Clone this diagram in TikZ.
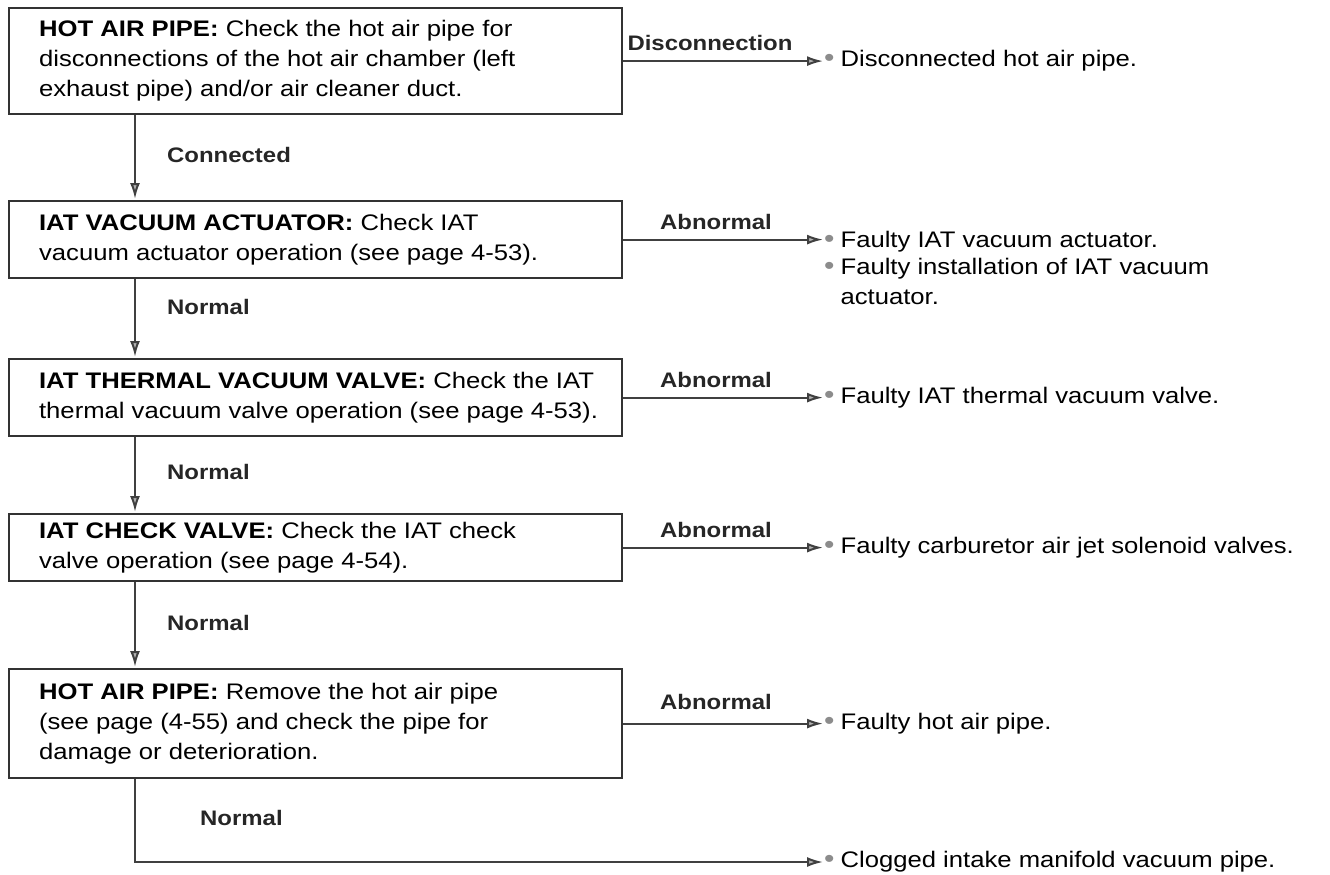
\documentclass[tikz,border=0pt]{standalone}
\usepackage{fontspec}
\setmainfont{Liberation Sans}[FakeStretch=1.14]
\usetikzlibrary{arrows.meta}
\newcommand{\bul}{{\color{black!45}\fontsize{26}{26}\selectfont\raisebox{0pt}{•}}\hspace{6pt}}
\newcommand{\bxt}[1]{\hspace*{30pt}\parbox[c]{583pt}{\raggedright #1}}
\begin{document}
\begin{tikzpicture}[x=1pt,y=1pt,
  box/.style={draw=black!80, line width=2.2pt, rectangle, anchor=north west,
    inner xsep=0pt, inner ysep=0pt,
    font=\fontsize{22.5}{30}\selectfont, minimum width=613pt},
  lbl/.style={font=\fontsize{21}{24}\selectfont\bfseries, text=black!85, inner sep=0pt},
  res/.style={anchor=west, inner sep=0pt, font=\fontsize{22.5}{30}\selectfont, align=left},
  arr/.style={draw=black!75, line width=2pt, shorten >=1pt,
    -{Latex[length=16pt,width=10pt,fill=black!30]}},
]
\useasboundingbox (0,0) rectangle (1330,-875);
\coordinate (vx) at (135,0);
\coordinate (rx) at (824,0);

\node[box, minimum height=106pt] (b1) at (8,-7) {\bxt{\textbf{HOT AIR PIPE:} Check the hot air pipe for\\disconnections of the hot air chamber (left\\exhaust pipe) and/or air cleaner duct.}};
\node[box, minimum height=77pt] (b2) at (8,-200) {\bxt{\textbf{IAT VACUUM ACTUATOR:} Check IAT\\vacuum actuator operation (see page 4-53).}};
\node[box, minimum height=77pt] (b3) at (8,-358) {\bxt{\textbf{IAT THERMAL VACUUM VALVE:} Check the IAT\\thermal vacuum valve operation (see page 4-53).}};
\node[box, minimum height=67pt] (b4) at (8,-513) {\bxt{\textbf{IAT CHECK VALVE:} Check the IAT check\\valve operation (see page 4-54).}};
\node[box, minimum height=109pt] (b5) at (8,-668) {\bxt{\textbf{HOT AIR PIPE:} Remove the hot air pipe\\(see page (4-55) and check the pipe for\\damage or deterioration.}};

\node[res] (r1) at (b1.east -| rx) {\bul Disconnected hot air pipe.};
\node[res] (r2a) at ([yshift=-2pt]b2.east -| rx) {\bul Faulty IAT vacuum actuator.};
\node[res, anchor=north west] (r2b) at (824,-258) {\bul Faulty installation of IAT vacuum\\\phantom{\bul}actuator.};
\node[res] (r3) at (b3.east -| rx) {\bul Faulty IAT thermal vacuum valve.};
\node[res] (r4) at (b4.east -| rx) {\bul Faulty carburetor air jet solenoid valves.};
\node[res] (r5) at (b5.east -| rx) {\bul Faulty hot air pipe.};
\node[res] (r6) at (824,-862) {\bul Clogged intake manifold vacuum pipe.};

\node[lbl, anchor=west] (l1) at (167,-155) {Connected};
\node[lbl, anchor=west] (l2) at (167,-307) {Normal};
\node[lbl, anchor=west] (l3) at (167,-472) {Normal};
\node[lbl, anchor=west] (l4) at (167,-623) {Normal};
\node[lbl, anchor=west] (l5) at (200,-818) {Normal};
\node[lbl] (d1) at (710,-43) {Disconnection};
\node[lbl] (a2) at (716,-222) {Abnormal};
\node[lbl] (a3) at (716,-380) {Abnormal};
\node[lbl] (a4) at (716,-530) {Abnormal};
\node[lbl] (a5) at (716,-702) {Abnormal};

\draw[arr] (b1.south -| vx) -- (b2.north -| vx);
\draw[arr] (b2.south -| vx) -- (b3.north -| vx);
\draw[arr] (b3.south -| vx) -- (b4.north -| vx);
\draw[arr] (b4.south -| vx) -- (b5.north -| vx);
\draw[arr] (b5.south -| vx) |- (r6.west);

\draw[arr] (b1.east) -- (b1.east -| r1.west);
\draw[arr] (b2.east) -- (b2.east -| r2a.west);
\draw[arr] (b3.east) -- (b3.east -| r3.west);
\draw[arr] (b4.east) -- (b4.east -| r4.west);
\draw[arr] (b5.east) -- (b5.east -| r5.west);
\end{tikzpicture}
\end{document}
